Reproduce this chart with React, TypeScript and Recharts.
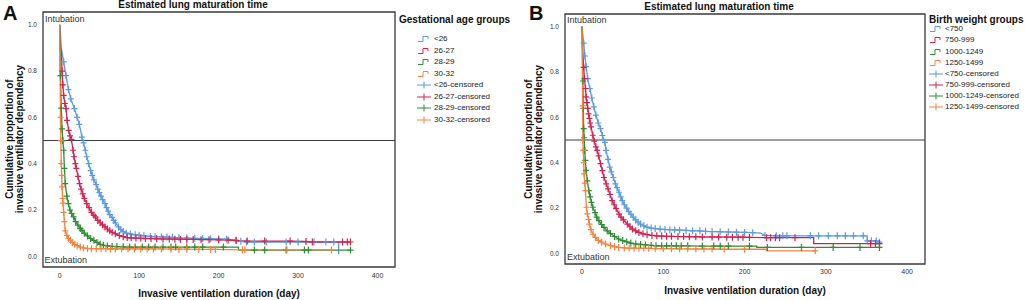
import React from "react";
import {
  LineChart,
  Line,
  XAxis,
  YAxis,
  ReferenceArea,
  ReferenceLine,
} from "recharts";

// [day, proportion, censored?]
type Pt = [number, number, number];

const gaGroups = ["<26", "26-27", "28-29", "30-32"];
const bwGroups = ["<750", "750-999", "1000-1249", "1250-1499"];

const xTicks = [0, 100, 200, 300, 400];
const yTicks = [0, 0.2, 0.4, 0.6, 0.8, 1.0];

// Panel A: gestational age groups
const gaLt26: Pt[] = [
  [0, 1, 0], [1, 0.96, 0], [2, 0.9, 0], [5, 0.84, 1], [8, 0.78, 1], [11, 0.72, 1],
  [14, 0.68, 1], [18.5, 0.638, 1], [22, 0.6, 1], [24.7, 0.57, 1], [28, 0.515, 1],
  [30, 0.49, 1], [32.3, 0.458, 1], [34, 0.43, 1], [36.5, 0.4, 1], [39, 0.37, 1],
  [41, 0.35, 1], [43, 0.33, 1], [46, 0.31, 1], [48, 0.29, 1], [50, 0.275, 1],
  [52, 0.26, 1], [54, 0.245, 1], [57, 0.228, 1], [59, 0.21, 1], [61, 0.195, 1],
  [63, 0.18, 1], [66, 0.168, 1], [68, 0.155, 1], [70, 0.145, 1], [74, 0.127, 1],
  [77, 0.115, 1], [80, 0.107, 1], [84, 0.1, 1], [89, 0.097, 1], [95, 0.093, 1],
  [100, 0.091, 1], [106, 0.089, 1], [114, 0.086, 1], [120, 0.085, 1], [128, 0.084, 1],
  [135, 0.083, 1], [142, 0.082, 1], [150, 0.08, 1], [160, 0.079, 1], [170, 0.078, 1],
  [180, 0.077, 1], [190, 0.076, 1], [200, 0.075, 1], [210, 0.074, 1], [222, 0.07, 1],
  [228, 0.065, 1], [235, 0.062, 1], [245, 0.062, 1], [260, 0.062, 1], [285, 0.062, 1],
  [300, 0.062, 1], [320, 0.062, 1], [335, 0.062, 1], [345, 0.062, 1], [351, 0.062, 0],
  [351, 0.012, 0], [352, 0.012, 0],
];
const ga2627: Pt[] = [
  [0, 1, 0], [0.5, 0.93, 0], [2, 0.88, 0], [3, 0.8, 1], [4, 0.74, 1], [5, 0.695, 1],
  [6.5, 0.66, 1], [8, 0.638, 1], [9.3, 0.587, 1], [11.3, 0.544, 1], [13, 0.52, 1],
  [14.7, 0.505, 1], [16.8, 0.458, 1], [18, 0.43, 1], [19.7, 0.4, 1], [21, 0.38, 1],
  [23, 0.345, 1], [25, 0.314, 1], [27, 0.29, 1], [29, 0.27, 1], [31, 0.25, 1],
  [34, 0.228, 1], [37, 0.21, 1], [40, 0.19, 1], [43, 0.177, 1], [45, 0.17, 1],
  [48, 0.155, 1], [51, 0.145, 1], [54, 0.136, 1], [57, 0.127, 1], [60, 0.118, 1],
  [63, 0.11, 1], [66, 0.104, 1], [70, 0.098, 1], [75, 0.09, 1], [80, 0.085, 1],
  [85, 0.081, 1], [90, 0.08, 1], [96, 0.079, 1], [102, 0.078, 1], [108, 0.077, 1],
  [115, 0.077, 1], [122, 0.076, 1], [130, 0.075, 1], [138, 0.075, 1], [145, 0.074, 1],
  [152, 0.074, 1], [160, 0.073, 1], [168, 0.073, 1], [178, 0.072, 1], [188, 0.072, 1],
  [200, 0.071, 1], [212, 0.07, 1], [222, 0.068, 1], [236, 0.066, 1], [258, 0.066, 1],
  [290, 0.066, 1], [310, 0.064, 1], [318, 0.062, 1], [356, 0.062, 1], [362, 0.062, 1],
  [366, 0.062, 1],
];
const ga2829: Pt[] = [
  [0, 1, 0], [0.5, 0.85, 0], [1, 0.78, 1], [2, 0.64, 1], [3, 0.55, 1], [4, 0.5, 1],
  [5, 0.458, 1], [6, 0.38, 1], [7, 0.314, 1], [9, 0.26, 1], [11, 0.228, 1], [13, 0.2, 1],
  [15, 0.185, 1], [17.6, 0.17, 1], [20, 0.15, 1], [23, 0.135, 1], [26, 0.12, 1],
  [28, 0.112, 1], [31, 0.1, 1], [35, 0.088, 1], [39, 0.077, 1], [43, 0.069, 1],
  [47, 0.06, 1], [51, 0.052, 1], [55, 0.048, 1], [60, 0.045, 1], [66, 0.043, 1],
  [72, 0.042, 1], [80, 0.041, 1], [88, 0.04, 1], [95, 0.04, 1], [104, 0.04, 1],
  [112, 0.04, 1], [120, 0.04, 1], [130, 0.04, 1], [140, 0.04, 1], [146, 0.04, 1],
  [160, 0.04, 1], [170, 0.04, 1], [180, 0.04, 1], [206, 0.04, 1], [225, 0.04, 0],
  [225, 0.027, 0], [245, 0.027, 1], [258, 0.027, 1], [285, 0.027, 1], [308, 0.027, 1],
  [313, 0.027, 1], [366, 0.027, 1],
];
const ga3032: Pt[] = [
  [0, 1, 0], [0.5, 0.8, 0], [1, 0.6, 1], [1.5, 0.5, 1], [2, 0.4, 1], [2.5, 0.35, 1],
  [3, 0.3, 1], [3.8, 0.25, 1], [4, 0.23, 1], [5, 0.19, 1], [6, 0.15, 1], [7, 0.11, 1],
  [9, 0.09, 1], [11, 0.078, 1], [13.5, 0.07, 1], [16, 0.06, 1], [19, 0.052, 1],
  [22, 0.046, 1], [26, 0.04, 1], [30, 0.036, 1], [35, 0.034, 1], [40, 0.033, 1],
  [46, 0.033, 1], [52, 0.033, 1], [58, 0.033, 1], [64, 0.032, 1], [70, 0.032, 1],
  [78, 0.032, 1], [86, 0.032, 1], [94, 0.032, 1], [102, 0.032, 1], [110, 0.032, 1],
  [118, 0.032, 1], [128, 0.032, 1], [140, 0.031, 1], [150, 0.031, 1], [160, 0.031, 1],
  [175, 0.03, 1], [190, 0.03, 1], [196, 0.03, 1], [230, 0.028, 1], [233, 0.028, 1],
  [286, 0.028, 1], [342, 0.028, 1],
];

// Panel B: birth weight groups
const bwLt750: Pt[] = [
  [0, 1, 0], [1, 0.96, 0], [2, 0.927, 1], [3.5, 0.87, 1], [5, 0.823, 1], [7, 0.77, 1],
  [9.5, 0.727, 1], [12, 0.685, 1], [14.5, 0.646, 1], [17, 0.61, 1], [20, 0.575, 1],
  [22.7, 0.55, 1], [25, 0.52, 1], [28, 0.49, 1], [29.5, 0.454, 1], [32, 0.415, 1],
  [34, 0.381, 1], [36, 0.36, 1], [38.5, 0.335, 1], [41, 0.307, 1], [43, 0.29, 1],
  [45.5, 0.27, 1], [47.5, 0.25, 1], [49.5, 0.233, 1], [52, 0.215, 1], [55, 0.2, 1],
  [57.5, 0.185, 1], [60, 0.174, 1], [63, 0.16, 1], [66, 0.148, 1], [69, 0.138, 1],
  [72, 0.13, 1], [76, 0.122, 1], [80, 0.116, 1], [85, 0.112, 1], [90, 0.11, 1],
  [96, 0.108, 1], [102, 0.106, 1], [108, 0.105, 1], [114, 0.104, 1], [120, 0.103, 1],
  [128, 0.102, 1], [136, 0.1, 1], [145, 0.1, 1], [152, 0.098, 1], [160, 0.097, 1],
  [170, 0.096, 1], [180, 0.095, 1], [190, 0.094, 1], [200, 0.093, 1], [210, 0.092, 1],
  [220, 0.09, 0], [225, 0.08, 1], [239, 0.078, 1], [247, 0.078, 1], [252, 0.078, 1],
  [281, 0.078, 1], [291, 0.078, 1], [303, 0.078, 1], [314, 0.078, 1], [324, 0.078, 1],
  [334, 0.078, 1], [346, 0.078, 1], [351, 0.078, 0], [351, 0.056, 1], [356, 0.056, 1],
  [362, 0.056, 1], [366, 0.05, 1],
];
const bw750999: Pt[] = [
  [0, 1, 0], [0.5, 0.91, 0], [2, 0.82, 1], [3, 0.77, 1], [4.2, 0.727, 1], [5, 0.69, 1],
  [6, 0.665, 1], [7, 0.639, 1], [8, 0.615, 1], [9, 0.595, 1], [10, 0.575, 1],
  [11, 0.558, 1], [13.2, 0.521, 1], [15, 0.495, 1], [17, 0.47, 1], [18.6, 0.454, 1],
  [20.5, 0.43, 1], [22.7, 0.396, 1], [25, 0.365, 1], [27, 0.335, 1], [29.7, 0.307, 1],
  [32, 0.285, 1], [34.5, 0.26, 1], [37, 0.233, 1], [39.5, 0.215, 1], [42, 0.198, 1],
  [45.4, 0.174, 1], [48, 0.16, 1], [51, 0.148, 1], [55.7, 0.13, 1], [59, 0.118, 1],
  [62, 0.108, 1], [66, 0.1, 1], [70, 0.093, 1], [75, 0.087, 1], [80, 0.083, 1],
  [86, 0.08, 1], [92, 0.078, 1], [98, 0.077, 1], [104, 0.076, 1], [110, 0.076, 1],
  [118, 0.075, 1], [125, 0.075, 1], [132, 0.074, 1], [140, 0.074, 1], [148, 0.073, 1],
  [160, 0.073, 1], [168, 0.073, 1], [178, 0.072, 1], [185, 0.072, 1], [192, 0.072, 1],
  [198, 0.072, 1], [206, 0.071, 1], [227, 0.07, 1], [232, 0.07, 1], [238, 0.07, 1],
  [243, 0.07, 1], [262, 0.07, 1], [285, 0.07, 0], [285, 0.044, 0], [355, 0.044, 1],
  [361, 0.044, 1], [366, 0.044, 1],
];
const bw10001249: Pt[] = [
  [0, 1, 0], [0.5, 0.88, 0], [1, 0.76, 1], [1.5, 0.64, 1], [2, 0.55, 1], [2.5, 0.51, 1],
  [3.3, 0.454, 1], [4, 0.41, 1], [5, 0.366, 1], [6.5, 0.32, 1], [8.3, 0.277, 1],
  [10, 0.25, 1], [11.5, 0.225, 1], [13.2, 0.204, 1], [16, 0.18, 1], [18, 0.16, 1],
  [20.7, 0.145, 1], [24, 0.128, 1], [27, 0.115, 1], [31, 0.1, 1], [35, 0.088, 1],
  [40, 0.075, 1], [45, 0.064, 1], [50, 0.057, 1], [55, 0.051, 1], [60, 0.046, 1],
  [66, 0.042, 1], [72, 0.04, 1], [78, 0.038, 1], [85, 0.036, 1], [91, 0.034, 1],
  [98, 0.034, 1], [104, 0.034, 1], [110, 0.034, 1], [116, 0.034, 1], [122, 0.034, 1],
  [130, 0.034, 1], [148, 0.033, 1], [162, 0.033, 1], [170, 0.033, 1], [180, 0.033, 1],
  [206, 0.033, 1], [215, 0.033, 0], [215, 0.027, 0], [228, 0.027, 1], [270, 0.027, 1],
  [309, 0.027, 1], [342, 0.027, 1], [366, 0.027, 1],
];
const bw12501499: Pt[] = [
  [0, 1, 0], [0.3, 0.85, 0], [0.7, 0.65, 1], [1, 0.5, 1], [1.5, 0.454, 1], [2, 0.4, 1],
  [2.5, 0.351, 1], [3.3, 0.31, 1], [4.2, 0.277, 1], [5.4, 0.204, 1], [6.5, 0.175, 1],
  [8, 0.15, 1], [9, 0.13, 1], [11, 0.105, 1], [13.5, 0.085, 1], [16.5, 0.071, 1],
  [20, 0.058, 1], [24, 0.05, 1], [29, 0.042, 1], [35, 0.035, 1], [40, 0.03, 1],
  [45, 0.027, 1], [52, 0.025, 1], [58, 0.024, 1], [64, 0.024, 1], [70, 0.023, 1],
  [76, 0.023, 1], [82, 0.023, 1], [90, 0.022, 1], [100, 0.022, 1], [110, 0.022, 1],
  [120, 0.021, 1], [130, 0.021, 1], [140, 0.02, 1], [150, 0.02, 1], [160, 0.02, 1],
  [175, 0.019, 1], [200, 0.019, 1], [227, 0.019, 0], [227, 0.012, 0], [287, 0.012, 1],
];

const colors = ["#5b9be0", "#d42352", "#2f8d37", "#f4843f"];
const FONT = "'Liberation Sans', Arial, sans-serif";

const toRows = (pts: Pt[]) => pts.map(([t, s, c]) => ({ t, s, c }));

const plusDot = (color: string) => (props: any) => {
  const { cx, cy, payload, index } = props;
  if (!payload || !payload.c || cx == null || cy == null) return <g key={`d-${index}`} />;
  return (
    <path
      key={`d-${index}`}
      d={`M${cx - 3},${cy}h6M${cx},${cy - 3.5}v7`}
      stroke={color}
      strokeWidth={1.2}
      fill="none"
    />
  );
};

type PanelProps = {
  left: number;
  width: number;
  mLeft: number;
  mRight: number;
  top: number;
  xHeight: number;
  xTickMargin: number;
  series: Pt[][];
};

const X_DOMAIN: [number, number] = [-21, 422];
const Y_DOMAIN: [number, number] = [-0.046, 1.055];

const KMPanel = ({ left, width, mLeft, mRight, top, xHeight, xTickMargin, series }: PanelProps) => (
  <div style={{ position: "absolute", left, top: 0 }}>
    <LineChart
      width={width}
      height={300}
      margin={{ top, right: mRight, bottom: 0, left: mLeft }}
    >
      <XAxis
        type="number"
        dataKey="t"
        domain={X_DOMAIN}
        ticks={xTicks}
        allowDataOverflow
        axisLine={false}
        tickLine={false}
        tickSize={0}
        tickMargin={xTickMargin}
        height={xHeight}
        tick={{ fontSize: 7, fill: "#333", fontFamily: FONT }}
      />
      <YAxis
        type="number"
        dataKey="s"
        domain={Y_DOMAIN}
        ticks={yTicks}
        allowDataOverflow
        axisLine={false}
        tickLine={false}
        tickSize={0}
        tickMargin={6}
        width={43}
        tickFormatter={(v: number) => v.toFixed(1)}
        tick={{ fontSize: 6.5, fill: "#333", fontFamily: FONT }}
      />
      <ReferenceArea
        x1={X_DOMAIN[0]}
        x2={X_DOMAIN[1]}
        y1={Y_DOMAIN[0]}
        y2={Y_DOMAIN[1]}
        fill="none"
        fillOpacity={0}
        stroke="#3a3a3a"
        strokeWidth={1.3}
      />
      <ReferenceLine y={0.5} stroke="#3a3a3a" strokeWidth={1} />
      {series.map((pts, i) => (
        <Line
          key={i}
          data={toRows(pts)}
          dataKey="s"
          type="linear"
          stroke={colors[i]}
          strokeWidth={1.3}
          dot={plusDot(colors[i])}
          activeDot={false}
          isAnimationActive={false}
        />
      ))}
    </LineChart>
  </div>
);

const StepIcon = ({ color }: { color: string }) => (
  <svg width={15} height={8} style={{ display: "block" }}>
    <path d="M1,6.5H6V1.5H11V4" stroke={color} strokeWidth={1} fill="none" />
  </svg>
);

const CensorIcon = ({ color }: { color: string }) => (
  <svg width={15} height={8} style={{ display: "block" }}>
    <path d="M0,4H14M7,0.5V7.5" stroke={color} strokeWidth={1} fill="none" />
  </svg>
);

const LegendBlock = ({
  x,
  titleY,
  firstY,
  gap,
  iconX,
  textX,
  title,
  groups,
}: {
  x: number;
  titleY: number;
  firstY: number;
  gap: number;
  iconX: number;
  textX: number;
  title: string;
  groups: string[];
}) => {
  const items = [
    ...groups.map((g, i) => ({ label: g, color: colors[i], censor: false })),
    ...groups.map((g, i) => ({ label: `${g}-censored`, color: colors[i], censor: true })),
  ];
  return (
    <>
      <div
        style={{
          position: "absolute",
          left: x,
          top: titleY - 6,
          fontSize: 10,
          fontWeight: "bold",
          lineHeight: "12px",
          whiteSpace: "nowrap",
          color: "#111",
        }}
      >
        {title}
      </div>
      {items.map((it, i) => (
        <div
          key={it.label}
          style={{
            position: "absolute",
            left: iconX,
            top: firstY + i * gap - 5,
            height: 10,
            display: "flex",
            alignItems: "center",
            whiteSpace: "nowrap",
          }}
        >
          {it.censor ? <CensorIcon color={it.color} /> : <StepIcon color={it.color} />}
          <span
            style={{
              position: "absolute",
              left: textX - iconX,
              fontSize: 8,
              lineHeight: "10px",
              color: "#222",
            }}
          >
            {it.label}
          </span>
        </div>
      ))}
    </>
  );
};

const YTitle = ({ cx, cy }: { cx: number; cy: number }) => (
  <div
    style={{
      position: "absolute",
      left: cx - 100,
      top: cy - 10,
      width: 200,
      height: 20,
      transform: "rotate(-90deg)",
      transformOrigin: "center",
      textAlign: "center",
      fontSize: 10,
      fontWeight: "bold",
      lineHeight: "10px",
      color: "#111",
      whiteSpace: "nowrap",
    }}
  >
    Cumulative proportion of
    <br />
    invasive ventilator dependency
  </div>
);

const Label = ({ x, y, text, size, bold, center, color }: any) => (
  <div
    style={{
      position: "absolute",
      left: center ? x - 150 : x,
      width: center ? 300 : undefined,
      top: y - size * 0.6,
      fontSize: size,
      lineHeight: `${size * 1.2}px`,
      fontWeight: bold ? "bold" : "normal",
      textAlign: center ? "center" : "left",
      whiteSpace: "nowrap",
      color: color || "#111",
    }}
  >
    {text}
  </div>
);

export default function App() {
  return (
    <div
      style={{
        position: "absolute",
        left: 0,
        top: 0,
        width: 1026,
        height: 300,
        background: "#fff",
        fontFamily: FONT,
        overflow: "hidden",
      }}
    >
      <KMPanel
        left={0}
        width={420}
        mLeft={0}
        mRight={25}
        top={12}
        xHeight={33}
        xTickMargin={6}
        series={[gaLt26, ga2627, ga2829, ga3032]}
      />
      <KMPanel
        left={510}
        width={430}
        mLeft={12}
        mRight={15}
        top={14}
        xHeight={36}
        xTickMargin={5}
        series={[bwLt750, bw750999, bw10001249, bw12501499]}
      />

      <Label x={3} y={13} text="A" size={20} bold />
      <Label x={529} y={13} text="B" size={20} bold />
      <Label x={193} y={5} text="Estimated lung maturation time" size={10} bold center />
      <Label x={719} y={6.5} text="Estimated lung maturation time" size={10} bold center />
      <Label x={219} y={294} text="Invasive ventilation duration (day)" size={10} bold center />
      <Label x={745} y={290.5} text="Invasive ventilation duration (day)" size={10} bold center />
      <Label x={45} y={19} text="Intubation" size={9} color="#333" />
      <Label x={44.5} y={260.5} text="Extubation" size={9} color="#333" />
      <Label x={567} y={20} text="Intubation" size={9} color="#333" />
      <Label x={567} y={257.5} text="Extubation" size={9} color="#333" />

      <YTitle cx={14.5} cy={139} />
      <YTitle cx={534} cy={139} />

      <LegendBlock
        x={399}
        titleY={20}
        firstY={39}
        gap={11.5}
        iconX={417}
        textX={434}
        title="Gestational age groups"
        groups={gaGroups}
      />
      <LegendBlock
        x={929}
        titleY={20}
        firstY={29.3}
        gap={11.15}
        iconX={929}
        textX={945}
        title="Birth weight groups"
        groups={bwGroups}
      />
    </div>
  );
}
